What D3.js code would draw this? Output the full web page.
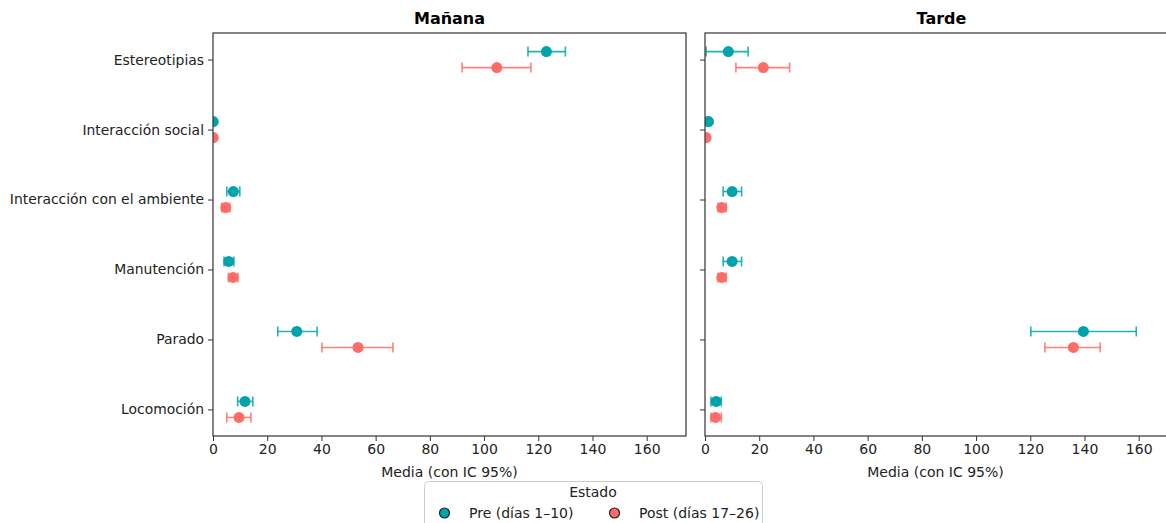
<!DOCTYPE html>
<html>
<head>
<meta charset="utf-8">
<script src="https://cdn.jsdelivr.net/npm/d3@7"></script>
<style>
  body { margin: 0; background: #fff; }
  svg text { font-family: "DejaVu Sans", sans-serif; fill: #222; }
</style>
</head>
<body>
<svg id="chart" width="1166" height="523"></svg>
<script>
// categories, top to bottom
const categories = ["Estereotipias", "Interacción social", "Interacción con el ambiente", "Manutención", "Parado", "Locomoción"];
const panels = ["Mañana", "Tarde"];
const estados = ["Pre (días 1–10)", "Post (días 17–26)"];
const xTicks = [0, 20, 40, 60, 80, 100, 120, 140, 160];

// mean, lower, upper for each category (same order as categories)
const mananaPreMean = [123.0, 0.1, 7.5, 5.8, 30.9, 11.8];
const mananaPreLo   = [116.2, 0.0, 5.1, 4.1, 23.9, 9.1];
const mananaPreHi   = [130.0, 0.2, 9.9, 7.7, 38.4, 14.7];
const mananaPostMean = [104.7, 0.1, 4.7, 7.4, 53.5, 9.6];
const mananaPostLo   = [91.9, 0.0, 3.2, 5.7, 40.2, 5.1];
const mananaPostHi   = [117.3, 0.2, 6.2, 9.2, 66.4, 14.0];

const tardePreMean = [8.6, 1.3, 10.0, 10.0, 139.6, 4.1];
const tardePreLo   = [0.4, 0.6, 6.7, 6.7, 120.2, 2.2];
const tardePreHi   = [15.9, 2.0, 13.5, 13.5, 159.1, 6.0];
const tardePostMean = [21.5, 0.4, 6.2, 6.2, 135.9, 3.9];
const tardePostLo   = [11.4, 0.1, 4.8, 4.8, 125.4, 2.2];
const tardePostHi   = [31.2, 0.7, 7.8, 7.8, 145.8, 6.0];

const colors = ["#00a3ab", "#ff6b66"];

function rows(mean, lo, hi) {
  return categories.map((c, i) => ({cat: c, mean: mean[i], lo: lo[i], hi: hi[i]}));
}
const panelData = [
  [rows(mananaPreMean, mananaPreLo, mananaPreHi), rows(mananaPostMean, mananaPostLo, mananaPostHi)],
  [rows(tardePreMean, tardePreLo, tardePreHi), rows(tardePostMean, tardePostLo, tardePostHi)]
];

const svg = d3.select("#chart");
const plotTop = 33, plotBottom = 436, pw = 473;
const lefts = [213, 705];

const y = d3.scalePoint().domain(categories).range([plotTop, plotBottom]).padding(0.38);
const dodge = 8;

panels.forEach((title, p) => {
  const x = d3.scaleLinear().domain([0, 174.5]).range([lefts[p], lefts[p] + pw]);
  const g = svg.append("g");

  // x axis
  const xa = g.append("g").attr("transform", `translate(0,${plotBottom})`)
    .call(d3.axisBottom(x).tickValues(xTicks).tickSize(5).tickPadding(3));
  xa.select(".domain").remove();
  xa.selectAll("line").attr("stroke", "#333");
  xa.selectAll("text").attr("font-size", 14).attr("fill", "#222");

  // y axis
  const ya = g.append("g").attr("transform", `translate(${lefts[p]},0)`)
    .call(d3.axisLeft(y).tickSize(5).tickPadding(4));
  ya.select(".domain").remove();
  ya.selectAll("line").attr("stroke", "#333");
  ya.selectAll("text").attr("font-size", 13.9).attr("fill", "#222");
  if (p === 1) ya.selectAll("text").remove();

  // markers are clipped to the axes box, like matplotlib
  const clipId = "clip" + p;
  g.append("clipPath").attr("id", clipId).append("rect")
    .attr("x", lefts[p]).attr("y", plotTop).attr("width", pw).attr("height", plotBottom - plotTop);
  const plot = g.append("g").attr("clip-path", `url(#${clipId})`);

  panelData[p].forEach((series, s) => {
    const off = s === 0 ? -dodge : dodge;
    const sg = plot.append("g");
    const eb = sg.selectAll("g.eb").data(series).join("g").attr("class", "eb")
      .attr("stroke", colors[s]).attr("stroke-opacity", 0.85).attr("stroke-width", 1.6);
    eb.append("line")
      .attr("x1", d => x(d.lo)).attr("x2", d => x(d.hi))
      .attr("y1", d => y(d.cat) + off).attr("y2", d => y(d.cat) + off);
    eb.append("line")
      .attr("x1", d => x(d.lo)).attr("x2", d => x(d.lo))
      .attr("y1", d => y(d.cat) + off - 5).attr("y2", d => y(d.cat) + off + 5);
    eb.append("line")
      .attr("x1", d => x(d.hi)).attr("x2", d => x(d.hi))
      .attr("y1", d => y(d.cat) + off - 5).attr("y2", d => y(d.cat) + off + 5);
    sg.selectAll("circle").data(series).join("circle")
      .attr("cx", d => x(d.mean)).attr("cy", d => y(d.cat) + off)
      .attr("r", 5.5).attr("fill", colors[s]);
  });

  // frame
  g.append("rect").attr("x", lefts[p]).attr("y", plotTop).attr("width", pw).attr("height", plotBottom - plotTop)
    .attr("fill", "none").attr("stroke", "#333").attr("stroke-width", 1.2);

  g.append("text").attr("x", lefts[p] + pw / 2).attr("y", 24)
    .attr("text-anchor", "middle").attr("font-size", 16).attr("font-weight", "bold")
    .style("fill", "#000").text(title);

  g.append("text").attr("x", lefts[p] + pw / 2 - (p === 1 ? 6 : 0)).attr("y", 477)
    .attr("text-anchor", "middle").attr("font-size", 14).text("Media (con IC 95%)");
});

// legend
const lg = svg.append("g");
lg.append("rect").attr("x", 424.5).attr("y", 481.5).attr("width", 338).attr("height", 60)
  .attr("rx", 4).attr("fill", "#fff").attr("stroke", "#ccc");
lg.append("text").attr("x", 593).attr("y", 497).attr("text-anchor", "middle")
  .attr("font-size", 14).text("Estado");
const lx = [444.5, 614.5];
estados.forEach((e, i) => {
  lg.append("circle").attr("cx", lx[i]).attr("cy", 513).attr("r", 5)
    .attr("fill", colors[i]).attr("stroke", "#222").attr("stroke-width", 1.2);
  lg.append("text").attr("x", lx[i] + 24.5).attr("y", 518).attr("font-size", 14).text(e);
});
</script>
</body>
</html>
